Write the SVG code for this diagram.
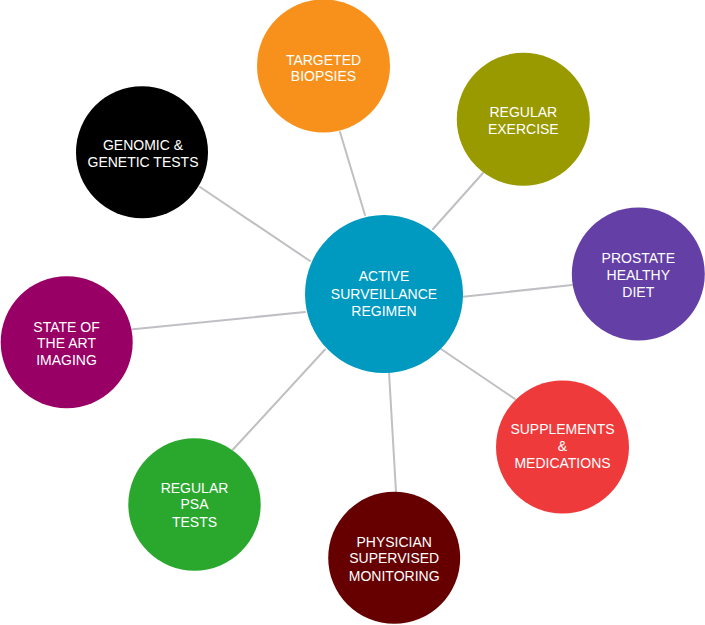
<svg xmlns="http://www.w3.org/2000/svg" width="705" height="625" viewBox="0 0 705 625">
<style>
.c line{stroke:#c0c0c4;stroke-width:2;stroke-linecap:round}
text{font-family:"Liberation Sans",Arial,sans-serif;font-size:14px;fill:#ffffff;text-anchor:middle}
</style>
<rect width="705" height="625" fill="#ffffff"/>
<g id="connectors" class="c">
<line x1="340" y1="132" x2="365" y2="215"/>
<line x1="483" y1="173" x2="433" y2="229"/>
<line x1="200" y1="187" x2="310" y2="261"/>
<line x1="463" y1="296.7" x2="572" y2="285"/>
<line x1="133" y1="329.3" x2="305" y2="312"/>
<line x1="441" y1="349" x2="515" y2="399"/>
<line x1="233" y1="449.5" x2="325" y2="349.5"/>
<line x1="389" y1="372" x2="396" y2="492"/>
</g>
<g id="center">
<circle cx="384" cy="294" r="79" fill="#0099c0"/>
<text x="384" y="281">ACTIVE</text>
<text x="384" y="298.5">SURVEILLANCE</text>
<text x="384" y="315.5">REGIMEN</text>
</g>
<g id="biopsies">
<circle cx="323.5" cy="66" r="66.5" fill="#f8911b"/>
<text x="323.5" y="64.5">TARGETED</text>
<text x="323.5" y="81">BIOPSIES</text>
</g>
<g id="exercise">
<circle cx="523.3" cy="119.3" r="66.5" fill="#999900"/>
<text x="523.3" y="117">REGULAR</text>
<text x="523.3" y="134">EXERCISE</text>
</g>
<g id="genomic">
<circle cx="142" cy="152.2" r="66" fill="#000000"/>
<text x="143" y="150">GENOMIC &amp;</text>
<text x="143" y="166.7">GENETIC TESTS</text>
</g>
<g id="diet">
<circle cx="638.3" cy="274" r="66.5" fill="#6440a6"/>
<text x="638.3" y="263.3">PROSTATE</text>
<text x="638.3" y="280">HEALTHY</text>
<text x="638.3" y="296.7">DIET</text>
</g>
<g id="imaging">
<circle cx="66.7" cy="342.2" r="66" fill="#990066"/>
<text x="66.5" y="331.7">STATE OF</text>
<text x="66.5" y="348.3">THE ART</text>
<text x="66.5" y="365">IMAGING</text>
</g>
<g id="supplements">
<circle cx="562.5" cy="447" r="66.5" fill="#ef3a3c"/>
<text x="562.5" y="434.3">SUPPLEMENTS</text>
<text x="562.5" y="450.7">&amp;</text>
<text x="562.5" y="468.3">MEDICATIONS</text>
</g>
<g id="psa">
<circle cx="194.5" cy="504.5" r="66.2" fill="#2aa82e"/>
<text x="194.5" y="492.7">REGULAR</text>
<text x="194.5" y="509.3">PSA</text>
<text x="194.5" y="526.7">TESTS</text>
</g>
<g id="physician">
<circle cx="394.2" cy="557.8" r="66" fill="#660000"/>
<text x="394.2" y="546.7">PHYSICIAN</text>
<text x="394.2" y="563.3">SUPERVISED</text>
<text x="394.2" y="580.7">MONITORING</text>
</g>
</svg>
